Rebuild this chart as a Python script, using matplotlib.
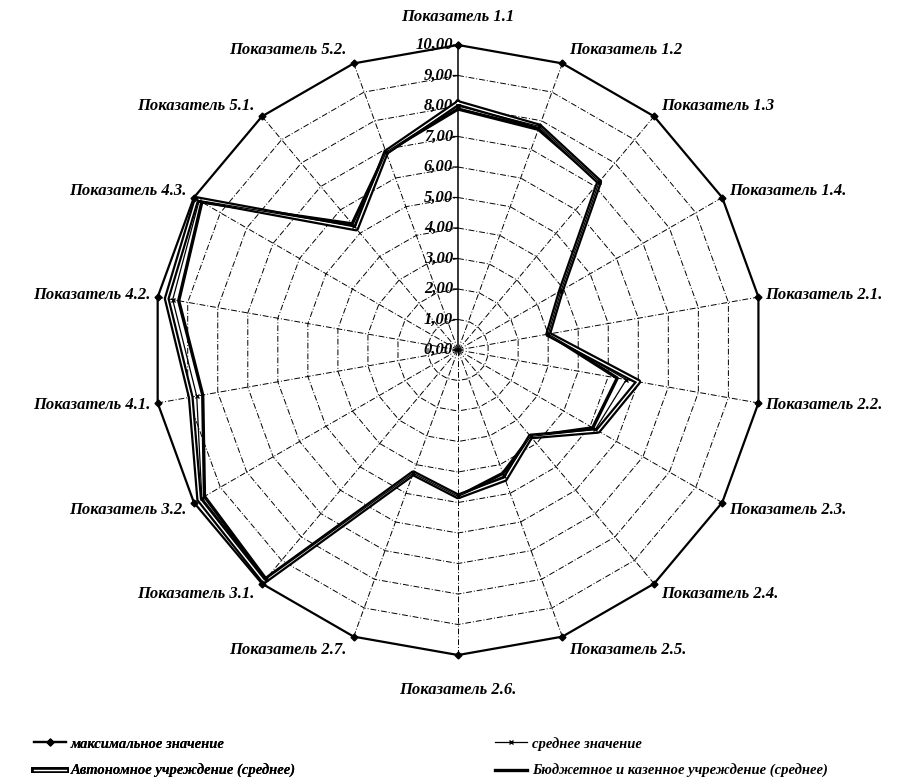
import numpy as np
import matplotlib
matplotlib.use("Agg")
import matplotlib.pyplot as plt
import matplotlib.patheffects as pe

plt.rcParams['font.family'] = ['Liberation Serif', 'DejaVu Serif']

# categories clockwise from the top
categories = ["Показатель 1.1", "Показатель 1.2", "Показатель 1.3", "Показатель 1.4.",
              "Показатель 2.1.", "Показатель 2.2.", "Показатель 2.3.", "Показатель 2.4.",
              "Показатель 2.5.", "Показатель 2.6.", "Показатель 2.7.", "Показатель 3.1.",
              "Показатель 3.2.", "Показатель 4.1.", "Показатель 4.2.", "Показатель 4.3.",
              "Показатель 5.1.", "Показатель 5.2."]

max_vals = [10.0, 10.0, 10.0, 10.0, 10.0, 10.0, 10.0, 10.0, 10.0,
            10.0, 10.0, 10.0, 10.0, 10.0, 10.0, 10.0, 10.0, 10.0]
avg_vals = [8.0, 7.8, 7.2, 3.9, 3.0, 5.6, 5.2, 3.7, 4.4,
            4.8, 4.3, 9.8, 9.7, 8.7, 9.5, 9.8, 5.3, 6.9]
auto_vals = [8.1, 7.8, 7.2, 3.9, 3.0, 6.0, 5.3, 3.7, 4.5,
             4.8, 4.3, 9.9, 9.8, 8.9, 9.7, 9.9, 5.2, 6.9]
budget_vals = [7.9, 7.7, 7.2, 3.9, 3.0, 5.3, 5.1, 3.7, 4.3,
               4.8, 4.3, 9.8, 9.6, 8.5, 9.3, 9.7, 5.4, 6.9]

r_ticks = [0, 1, 2, 3, 4, 5, 6, 7, 8, 9, 10]

legend_labels = ["максимальное значение", "Автономное учреждение (среднее)",
                 "среднее значение", "Бюджетное и казенное учреждение (среднее)"]

n = len(categories)
theta = np.linspace(0, 2 * np.pi, n, endpoint=False)
th = np.append(theta, theta[0])


def closed(v):
    return np.append(v, v[0])


fig = plt.figure(figsize=(9.12, 7.84), dpi=100)
ax = fig.add_axes([0.1678, 0.1645, 0.6689, 0.7781], projection='polar')
ax.set_theta_zero_location('N')
ax.set_theta_direction(-1)
ax.set_ylim(0, 10)
ax.axis('off')

dashdot = (0, (6, 2, 1, 2))

# polygon grid
for k in r_ticks[1:-1]:
    ax.plot(th, [k] * (n + 1), color='black', lw=0.7, ls=dashdot, zorder=1)

# spokes
for i, t in enumerate(theta):
    if i == 0:
        ax.plot([t, t], [0, 10], color='black', lw=1.1, zorder=1)
    else:
        ax.plot([t, t], [0, 10], color='black', lw=0.7, ls=dashdot, zorder=1)

# radial tick marks and labels
lab_font = dict(fontsize=12, fontweight='bold', fontstyle='italic')
for k in r_ticks:
    ax.annotate("", xy=(0, k), xytext=(-5, 0), textcoords='offset pixels',
                arrowprops=dict(arrowstyle='-', lw=0.9, color='black',
                                shrinkA=0, shrinkB=0))
    ax.annotate(f"{k:.2f}".replace('.', ','), xy=(0, k), xytext=(-5, 0),
                textcoords='offset pixels', ha='right', va='center', **lab_font)

# series
h_max, = ax.plot(th, closed(max_vals), color='black', lw=1.6, marker='D', ms=3.5,
                 clip_on=False, zorder=5, label=legend_labels[0])
h_bud, = ax.plot(th, closed(budget_vals), color='black', lw=2.4, zorder=4,
                 label=legend_labels[3])
h_auto, = ax.plot(th, closed(auto_vals), color='white', lw=1.0, zorder=4,
                  path_effects=[pe.Stroke(linewidth=4.2, foreground='black'), pe.Normal()],
                  label=legend_labels[1])
h_avg, = ax.plot(th, closed(avg_vals), color='black', lw=0.9, marker='x', ms=3,
                 zorder=4, label=legend_labels[2])

# category labels
for t, name in zip(theta, categories):
    s, c = np.sin(t), np.cos(t)
    if abs(s) < 0.01:
        ha = 'center'
        off = (0, 28 if c > 0 else -35)
    else:
        ha = 'left' if s > 0 else 'right'
        off = (7 * np.sign(s), 14 * c)
    ax.annotate(name, xy=(t, 10), xytext=off, textcoords='offset pixels',
                ha=ha, va='center', annotation_clip=False, **lab_font)

leg_kw = dict(loc='lower left', frameon=False, ncol=1, labelspacing=0.95,
              handlelength=2.2, handletextpad=0.3, borderpad=0.2,
              prop=dict(family='Liberation Serif', style='italic', weight='bold', size=10.5))
leg1 = fig.legend([h_max, h_auto], [legend_labels[0], legend_labels[1]],
                  bbox_to_anchor=(0.026, -0.006), **leg_kw)
fig.add_artist(leg1)
fig.legend([h_avg, h_bud], [legend_labels[2], legend_labels[3]],
           bbox_to_anchor=(0.532, -0.006), **leg_kw)

fig.savefig("out.png", dpi=100)
